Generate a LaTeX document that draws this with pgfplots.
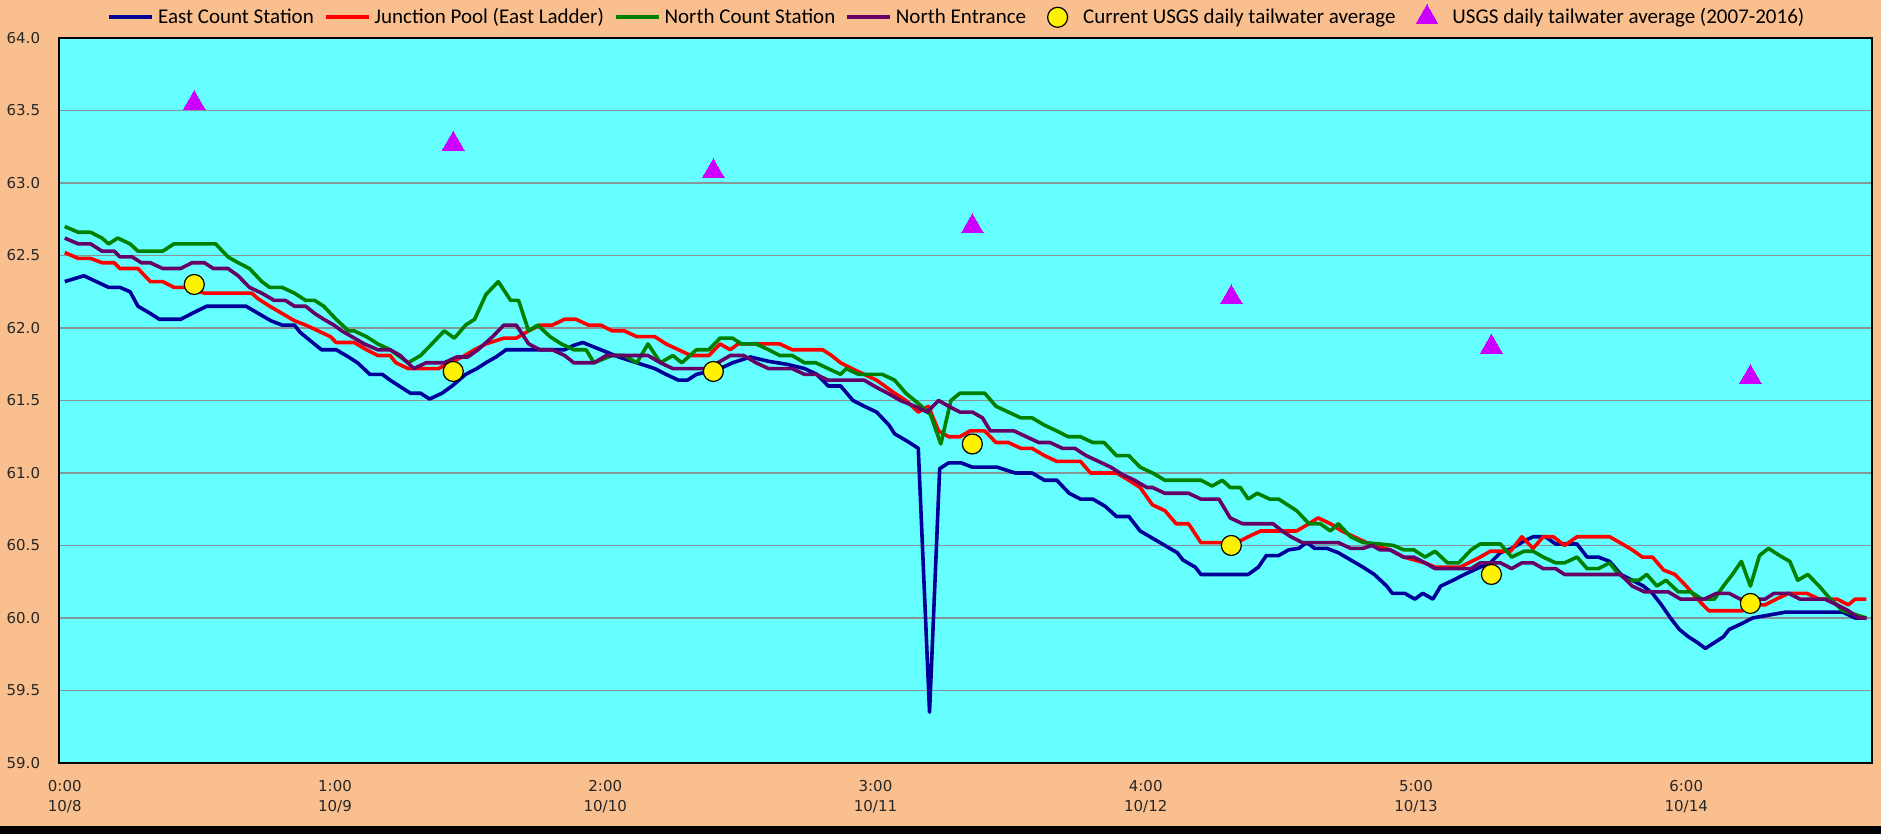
\documentclass[border=0pt]{standalone}
\usepackage{pgfplots}
\pgfplotsset{compat=1.18}
\usepackage{fontspec}
\setmainfont{DejaVu Sans}
\newfontfamily\legendfont{Carlito}
\definecolor{peach}{RGB}{250,191,143}
\definecolor{plotcyan}{RGB}{102,255,255}
\definecolor{eastblue}{RGB}{0,0,153}
\definecolor{jred}{RGB}{255,0,0}
\definecolor{ngreen}{RGB}{0,128,0}
\definecolor{npurple}{RGB}{102,0,102}
\definecolor{tri}{RGB}{204,0,255}
\definecolor{gridc}{RGB}{135,150,150}
\pgfplotsset{
  lineleg/.style={legend image code/.code={\draw[##1] (0pt,0pt) -- (21.5pt,0pt);}},
  markleg/.style={legend image code/.code={\path[draw=none,fill=none] (0pt,0pt) (21.5pt,0pt); \draw[##1] plot coordinates {(10.75pt,0pt)};}},
}
\begin{document}
\begin{tikzpicture}
\fill[peach] (0pt,0pt) rectangle (940.5pt,-417pt);
\fill[black] (0pt,-413pt) rectangle (940.5pt,-417pt);
\begin{axis}[
  at={(29.5pt,-19pt)}, anchor=north west,
  scale only axis, width=906.5pt, height=362.5pt,
  xmin=-0.5, xmax=160.5, ymin=59, ymax=64,
  axis background/.style={fill=plotcyan},
  axis line style={black, line width=1.1pt},
  xtick={0,24,48,72,96,120,144},
  xticklabels={{0:00\\10/8},{1:00\\10/9},{2:00\\10/10},{3:00\\10/11},{4:00\\10/12},{5:00\\10/13},{6:00\\10/14}},
  xticklabel style={align=center, font=\fontsize{7.5}{10}\selectfont, text=black!85, yshift=-5pt},
  ytick={59,59.5,...,64},
  yticklabel style={font=\fontsize{7.5}{9}\selectfont, text=black!85, xshift=-6pt, /pgf/number format/.cd, fixed, fixed zerofill, precision=1, assume math mode=true},
  major tick length=0pt,
  ymajorgrids, major grid style={gridc, line width=0.7pt},
  legend columns=6,
  legend style={at={(0,1)}, anchor=west, xshift=24pt, yshift=11pt, draw=none, fill=none,
    font=\legendfont\fontsize{10.5}{12}\selectfont, inner sep=0pt,
    nodes={inner sep=0pt},
    /tikz/every odd column/.append style={column sep=2pt},
    /tikz/every even column/.append style={column sep=5pt}},
  every axis plot/.append style={line join=round},
]
\addplot[eastblue, line width=1.8pt, no marks, lineleg] table[row sep=\\] {
x y\\
0 62.32\\ 1.7 62.36\\ 3.9 62.28\\ 4.9 62.28\\ 5.8 62.25\\ 6.5 62.15\\ 7.6 62.10\\ 8.4 62.06\\ 10.3 62.06\\ 11.3 62.10\\ 12.6 62.15\\ 16.1 62.15\\ 17.2 62.10\\ 18.3 62.05\\ 19.3 62.02\\ 20.4 62.02\\ 20.9 61.97\\ 22.0 61.90\\ 22.8 61.85\\ 24.1 61.85\\ 25.2 61.80\\ 26.0 61.76\\ 27.1 61.68\\ 28.2 61.68\\ 28.9 61.64\\ 29.7 61.60\\ 30.7 61.55\\ 31.6 61.55\\ 32.4 61.51\\ 33.5 61.55\\ 34.4 61.60\\ 35.6 61.68\\ 36.6 61.72\\ 37.4 61.76\\ 38.3 61.80\\ 39.2 61.85\\ 44.4 61.85\\ 45.2 61.88\\ 46.0 61.90\\ 47.6 61.85\\ 49.2 61.80\\ 50.8 61.76\\ 52.4 61.72\\ 53.4 61.68\\ 54.5 61.64\\ 55.3 61.64\\ 56.1 61.68\\ 57.2 61.70\\ 58.2 61.72\\ 59.3 61.76\\ 60.9 61.80\\ 62.5 61.77\\ 64.1 61.75\\ 65.7 61.72\\ 66.8 61.68\\ 67.8 61.60\\ 68.9 61.60\\ 70.0 61.50\\ 71.0 61.46\\ 72.1 61.42\\ 73.2 61.33\\ 73.7 61.27\\ 74.8 61.22\\ 75.8 61.17\\ 76.8 59.35\\ 77.7 61.03\\ 78.5 61.07\\ 79.6 61.07\\ 80.6 61.04\\ 82.8 61.04\\ 84.4 61.00\\ 85.9 61.00\\ 87.0 60.95\\ 88.1 60.95\\ 89.2 60.86\\ 90.2 60.82\\ 91.3 60.82\\ 92.4 60.77\\ 93.4 60.70\\ 94.5 60.70\\ 95.5 60.60\\ 96.6 60.55\\ 97.7 60.50\\ 98.8 60.45\\ 99.3 60.40\\ 100.4 60.35\\ 100.9 60.30\\ 105.1 60.30\\ 106.0 60.35\\ 106.7 60.43\\ 107.8 60.43\\ 108.7 60.47\\ 109.6 60.48\\ 110.3 60.52\\ 111.0 60.48\\ 112.1 60.48\\ 113.1 60.45\\ 114.2 60.40\\ 115.3 60.35\\ 116.3 60.30\\ 117.4 60.22\\ 117.9 60.17\\ 119.0 60.17\\ 119.9 60.13\\ 120.6 60.17\\ 121.5 60.13\\ 122.2 60.22\\ 123.3 60.26\\ 124.3 60.30\\ 125.4 60.34\\ 126.6 60.38\\ 127.5 60.45\\ 128.5 60.48\\ 129.6 60.53\\ 130.4 60.56\\ 131.5 60.56\\ 132.4 60.51\\ 134.3 60.51\\ 135.2 60.42\\ 136.2 60.42\\ 137.2 60.39\\ 138.2 60.30\\ 139.2 60.26\\ 140.2 60.22\\ 141.0 60.17\\ 141.8 60.09\\ 142.6 60.00\\ 143.4 59.92\\ 144.2 59.87\\ 145.0 59.83\\ 145.7 59.79\\ 146.5 59.83\\ 147.3 59.87\\ 147.8 59.92\\ 148.9 59.96\\ 149.9 60.00\\ 152.8 60.04\\ 157.9 60.04\\ 159.0 60.00\\ 160 60.00\\
};
\addlegendentry{East Count Station}
\addplot[jred, line width=1.8pt, no marks, lineleg] table[row sep=\\] {
x y\\
0 62.52\\ 1.2 62.48\\ 2.3 62.48\\ 3.3 62.45\\ 4.4 62.45\\ 4.9 62.41\\ 6.5 62.41\\ 7.6 62.32\\ 8.7 62.32\\ 9.7 62.28\\ 10.8 62.28\\ 12.4 62.24\\ 16.6 62.24\\ 17.2 62.20\\ 18.2 62.15\\ 19.3 62.10\\ 20.4 62.05\\ 21.4 62.02\\ 22.5 61.98\\ 23.6 61.94\\ 24.1 61.90\\ 25.7 61.90\\ 26.8 61.85\\ 27.8 61.81\\ 28.9 61.81\\ 29.4 61.76\\ 30.5 61.72\\ 33.2 61.72\\ 34.2 61.76\\ 35.3 61.80\\ 36.4 61.85\\ 37.4 61.89\\ 39.0 61.93\\ 40.1 61.93\\ 41.2 61.98\\ 42.2 62.02\\ 43.3 62.02\\ 44.4 62.06\\ 45.4 62.06\\ 46.5 62.02\\ 47.6 62.02\\ 48.6 61.98\\ 49.7 61.98\\ 50.8 61.94\\ 52.4 61.94\\ 53.4 61.89\\ 54.5 61.85\\ 55.6 61.81\\ 57.2 61.81\\ 58.2 61.89\\ 59.1 61.85\\ 59.8 61.89\\ 63.5 61.89\\ 64.6 61.85\\ 67.3 61.85\\ 68.1 61.81\\ 68.9 61.76\\ 69.9 61.72\\ 71.0 61.68\\ 72.1 61.64\\ 73.7 61.55\\ 74.7 61.50\\ 75.8 61.42\\ 76.7 61.46\\ 77.6 61.29\\ 78.5 61.25\\ 79.5 61.25\\ 80.4 61.29\\ 81.7 61.29\\ 82.7 61.21\\ 83.8 61.21\\ 84.9 61.17\\ 85.9 61.17\\ 87.0 61.12\\ 88.1 61.08\\ 90.2 61.08\\ 91.1 61.00\\ 93.4 61.00\\ 94.5 60.95\\ 95.5 60.90\\ 96.6 60.78\\ 97.7 60.74\\ 98.7 60.65\\ 99.8 60.65\\ 100.9 60.52\\ 104.1 60.52\\ 105.1 60.56\\ 106.2 60.60\\ 109.4 60.60\\ 110.5 60.65\\ 111.3 60.69\\ 112.4 60.65\\ 113.4 60.60\\ 114.5 60.56\\ 115.6 60.52\\ 116.8 60.49\\ 117.7 60.47\\ 118.9 60.42\\ 120.8 60.38\\ 121.7 60.35\\ 123.9 60.35\\ 125.7 60.42\\ 126.6 60.46\\ 128.4 60.46\\ 129.4 60.56\\ 130.4 60.48\\ 131.3 60.56\\ 132.2 60.56\\ 133.2 60.50\\ 134.3 60.56\\ 137.2 60.56\\ 138.1 60.52\\ 139.2 60.47\\ 140.1 60.42\\ 141.0 60.42\\ 142.0 60.33\\ 143.0 60.30\\ 144.0 60.22\\ 145.0 60.13\\ 146.0 60.05\\ 149.0 60.05\\ 149.9 60.09\\ 151.0 60.09\\ 152.0 60.13\\ 153.1 60.17\\ 154.7 60.17\\ 155.8 60.13\\ 157.4 60.13\\ 158.4 60.09\\ 159.0 60.13\\ 160 60.13\\
};
\addlegendentry{Junction Pool (East Ladder)}
\addplot[ngreen, line width=1.8pt, no marks, lineleg] table[row sep=\\] {
x y\\
0 62.70\\ 1.2 62.66\\ 2.3 62.66\\ 3.3 62.62\\ 3.9 62.58\\ 4.7 62.62\\ 5.8 62.58\\ 6.5 62.53\\ 8.7 62.53\\ 9.7 62.58\\ 13.4 62.58\\ 14.5 62.49\\ 15.4 62.45\\ 16.4 62.41\\ 17.5 62.32\\ 18.2 62.28\\ 19.3 62.28\\ 20.4 62.24\\ 21.4 62.19\\ 22.2 62.19\\ 23.0 62.15\\ 24.1 62.06\\ 25.2 61.98\\ 25.7 61.98\\ 26.8 61.94\\ 27.8 61.89\\ 28.9 61.85\\ 30.5 61.76\\ 31.6 61.81\\ 32.6 61.89\\ 33.7 61.98\\ 34.6 61.93\\ 35.6 62.02\\ 36.4 62.06\\ 37.4 62.23\\ 38.5 62.32\\ 39.6 62.19\\ 40.3 62.19\\ 41.2 61.98\\ 42.0 62.02\\ 43.1 61.94\\ 44.1 61.89\\ 45.2 61.85\\ 46.3 61.85\\ 47.0 61.76\\ 48.6 61.81\\ 49.7 61.81\\ 50.8 61.76\\ 51.8 61.89\\ 52.9 61.76\\ 54.0 61.81\\ 54.8 61.76\\ 56.1 61.85\\ 57.2 61.85\\ 58.2 61.93\\ 59.3 61.93\\ 60.1 61.89\\ 61.4 61.89\\ 62.5 61.85\\ 63.5 61.81\\ 64.6 61.81\\ 65.7 61.76\\ 66.7 61.76\\ 67.8 61.72\\ 68.9 61.68\\ 69.4 61.72\\ 70.5 61.68\\ 72.6 61.68\\ 73.7 61.64\\ 74.7 61.55\\ 76.1 61.46\\ 76.9 61.40\\ 77.8 61.20\\ 78.7 61.50\\ 79.5 61.55\\ 81.7 61.55\\ 82.7 61.46\\ 83.8 61.42\\ 84.9 61.38\\ 85.9 61.38\\ 87.0 61.33\\ 88.1 61.29\\ 89.1 61.25\\ 90.2 61.25\\ 91.3 61.21\\ 92.3 61.21\\ 93.4 61.12\\ 94.5 61.12\\ 95.5 61.04\\ 96.6 61.00\\ 97.7 60.95\\ 100.9 60.95\\ 101.9 60.91\\ 102.8 60.95\\ 103.5 60.90\\ 104.4 60.90\\ 105.1 60.82\\ 105.9 60.86\\ 107.0 60.82\\ 107.8 60.82\\ 108.6 60.78\\ 109.4 60.74\\ 110.5 60.65\\ 111.5 60.65\\ 112.4 60.60\\ 113.1 60.65\\ 114.2 60.56\\ 115.3 60.52\\ 116.8 60.51\\ 118.0 60.50\\ 118.9 60.47\\ 119.8 60.47\\ 120.8 60.42\\ 121.7 60.46\\ 122.8 60.38\\ 123.8 60.38\\ 124.9 60.47\\ 125.7 60.51\\ 127.5 60.51\\ 128.5 60.42\\ 129.6 60.46\\ 130.4 60.46\\ 131.3 60.42\\ 132.4 60.38\\ 133.2 60.38\\ 134.3 60.42\\ 135.2 60.34\\ 136.2 60.34\\ 137.2 60.38\\ 137.8 60.32\\ 138.7 60.26\\ 139.8 60.26\\ 140.5 60.30\\ 141.4 60.22\\ 142.2 60.26\\ 143.3 60.18\\ 144.4 60.18\\ 145.4 60.13\\ 146.5 60.13\\ 147.3 60.22\\ 148.1 60.30\\ 148.9 60.39\\ 149.7 60.22\\ 150.5 60.43\\ 151.3 60.48\\ 152.3 60.43\\ 153.2 60.39\\ 153.9 60.26\\ 154.8 60.30\\ 155.8 60.22\\ 156.8 60.13\\ 157.9 60.05\\ 160 60.00\\
};
\addlegendentry{North Count Station}
\addplot[npurple, line width=1.8pt, no marks, lineleg] table[row sep=\\] {
x y\\
0 62.62\\ 1.2 62.58\\ 2.3 62.58\\ 3.3 62.53\\ 4.4 62.53\\ 4.9 62.49\\ 6.0 62.49\\ 6.8 62.45\\ 7.6 62.45\\ 8.7 62.41\\ 10.3 62.41\\ 11.3 62.45\\ 12.4 62.45\\ 13.2 62.41\\ 14.5 62.41\\ 15.4 62.36\\ 16.4 62.28\\ 17.5 62.24\\ 18.6 62.19\\ 19.6 62.19\\ 20.4 62.15\\ 21.4 62.15\\ 22.2 62.10\\ 23.0 62.06\\ 23.9 62.02\\ 24.6 61.98\\ 25.5 61.94\\ 26.6 61.89\\ 27.8 61.85\\ 28.9 61.85\\ 29.8 61.81\\ 31.0 61.72\\ 32.1 61.76\\ 33.7 61.76\\ 34.8 61.80\\ 35.8 61.80\\ 36.7 61.85\\ 38.0 61.94\\ 39.0 62.02\\ 40.1 62.02\\ 41.2 61.89\\ 42.2 61.85\\ 43.3 61.85\\ 44.4 61.81\\ 45.2 61.76\\ 47.0 61.76\\ 48.1 61.81\\ 51.8 61.81\\ 52.9 61.76\\ 54.0 61.72\\ 57.2 61.72\\ 58.0 61.76\\ 59.1 61.81\\ 60.3 61.81\\ 61.4 61.76\\ 62.5 61.72\\ 64.6 61.72\\ 65.7 61.68\\ 66.7 61.68\\ 67.8 61.64\\ 71.0 61.64\\ 72.1 61.59\\ 73.1 61.55\\ 74.2 61.50\\ 75.5 61.46\\ 76.6 61.42\\ 77.6 61.50\\ 78.5 61.46\\ 79.5 61.42\\ 80.6 61.42\\ 81.5 61.38\\ 82.2 61.29\\ 84.3 61.29\\ 85.4 61.25\\ 86.5 61.21\\ 87.5 61.21\\ 88.6 61.17\\ 89.7 61.17\\ 90.7 61.12\\ 91.8 61.08\\ 92.9 61.04\\ 93.9 60.99\\ 95.0 60.95\\ 96.1 60.90\\ 96.6 60.90\\ 97.7 60.86\\ 99.8 60.86\\ 100.9 60.82\\ 102.5 60.82\\ 103.5 60.69\\ 104.6 60.65\\ 107.3 60.65\\ 108.1 60.60\\ 108.9 60.56\\ 109.9 60.52\\ 113.1 60.52\\ 114.2 60.48\\ 115.3 60.48\\ 116.1 60.50\\ 116.8 60.47\\ 117.7 60.47\\ 118.9 60.42\\ 119.8 60.42\\ 120.8 60.38\\ 121.7 60.34\\ 124.9 60.34\\ 125.7 60.38\\ 127.5 60.38\\ 128.5 60.34\\ 129.4 60.38\\ 130.4 60.38\\ 131.3 60.34\\ 132.4 60.34\\ 133.2 60.30\\ 138.2 60.30\\ 139.2 60.22\\ 140.3 60.18\\ 142.4 60.18\\ 143.5 60.13\\ 145.6 60.13\\ 146.7 60.17\\ 147.8 60.17\\ 148.8 60.13\\ 151.0 60.13\\ 151.8 60.17\\ 153.1 60.17\\ 154.1 60.13\\ 156.3 60.13\\ 157.4 60.09\\ 158.4 60.05\\ 159.3 60.00\\ 160 60.00\\
};
\addlegendentry{North Entrance}
\addplot[only marks, mark=*, mark size=5pt, mark options={fill=yellow, draw=black, line width=0.6pt}, markleg] table[row sep=\\] {
x y\\
11.5 62.30\\ 34.5 61.70\\ 57.6 61.70\\ 80.6 61.20\\ 103.6 60.50\\ 126.7 60.30\\ 149.7 60.10\\
};
\addlegendentry{Current USGS daily tailwater average}
\addplot[only marks, mark=triangle*, mark size=6.3pt, mark options={fill=tri, draw=tri, line width=0pt}, markleg] table[row sep=\\] {
x y\\
11.5 63.55\\ 34.5 63.27\\ 57.6 63.08\\ 80.6 62.70\\ 103.6 62.21\\ 126.7 61.87\\ 149.7 61.66\\
};
\addlegendentry{USGS daily tailwater average (2007-2016)}
\end{axis}
\end{tikzpicture}
\end{document}
